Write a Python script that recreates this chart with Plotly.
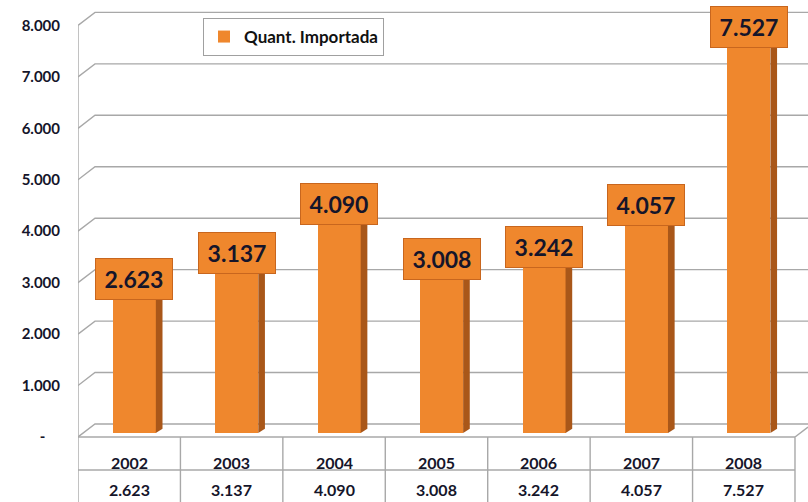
import plotly.graph_objects as go

years = ["2002", "2003", "2004", "2005", "2006", "2007", "2008"]
values = [2623, 3137, 4090, 3008, 3242, 4057, 7527]
labels = ["2.623", "3.137", "4.090", "3.008", "3.242", "4.057", "7.527"]
series_name = "Quant. Importada"
y_ticks = [0, 1000, 2000, 3000, 4000, 5000, 6000, 7000, 8000]
y_tick_text = ["-\u00a0\u00a0\u00a0\u00a0", "1.000", "2.000", "3.000", "4.000", "5.000", "6.000", "7.000", "8.000"]

# 3D styling constants
DX = 0.166   # depth offset in x (category units)
DY = 253     # depth offset in y (value units)
BASE = 78
BAR_OFF = -0.16
BAR_W = 0.42
SIDE_W = 0.065
SIDE_DY = 80
X_MAX = 6.627
Y_MAX = 8300

ORANGE = "#EF872D"
SIDE = "#A95719"
GRID = "#A8A8A8"
TXT = "#15152a"
FONT = "Lato"

xs = list(range(len(years)))

fig = go.Figure()
fig.add_trace(go.Bar(
    x=xs, y=values, base=BASE, offset=BAR_OFF, width=BAR_W,
    marker=dict(color=ORANGE, line=dict(width=0)),
    name=series_name, showlegend=True,
))

shapes = []
for v in y_ticks[1:]:
    shapes.append(dict(type="path", xref="x", yref="y", layer="below",
                       path=f"M -0.5 {v} L {-0.5 + DX} {v + DY} L {X_MAX} {v + DY}",
                       line=dict(color=GRID, width=1.4)))
shapes.append(dict(type="path", xref="x", yref="y", layer="below",
                   path=f"M -0.5 0 L {-0.5 + DX} {DY} L {X_MAX} {DY}",
                   line=dict(color=GRID, width=1.4)))
shapes.append(dict(type="path", xref="x", yref="y", layer="below",
                   path=f"M 6.5 0 L {X_MAX} {DY * (X_MAX - 6.5) / DX}",
                   line=dict(color=GRID, width=1.4)))
shapes.append(dict(type="line", xref="x", yref="y", layer="below",
                   x0=-0.5, x1=-0.5, y0=0, y1=8000, line=dict(color=GRID, width=1.4)))
for i, v in enumerate(values):
    x0 = i + BAR_OFF + BAR_W
    x1 = x0 + SIDE_W
    shapes.append(dict(type="path", xref="x", yref="y", layer="above",
                       path=f"M {x0} {BASE} L {x0} {BASE + v} L {x1} {BASE + v + SIDE_DY} L {x1} {BASE + SIDE_DY} Z",
                       fillcolor=SIDE, line=dict(width=0)))
    shapes.append(dict(type="path", xref="x", yref="y", layer="above",
                       path=f"M {i + BAR_OFF} {BASE + v} L {x0} {BASE + v} L {x1} {BASE + v + SIDE_DY} L {i + BAR_OFF + SIDE_W} {BASE + v + SIDE_DY} Z",
                       fillcolor="#F6A055", line=dict(width=0)))

PH = 427.0
def py(px_below):
    return -px_below / PH
shapes.append(dict(type="line", xref="x", yref="paper", x0=-0.5, x1=6.5, y0=0, y1=0,
                   line=dict(color=GRID, width=1.4)))
shapes.append(dict(type="line", xref="x", yref="paper", x0=-0.5, x1=6.5, y0=py(33), y1=py(33),
                   line=dict(color=GRID, width=1.4)))
for k in range(len(years) + 1):
    shapes.append(dict(type="line", xref="x", yref="paper", x0=-0.5 + k, x1=-0.5 + k,
                       y0=0, y1=py(70), line=dict(color=GRID, width=1.4)))

annotations = []
for i, (yr, lab, v) in enumerate(zip(years, labels, values)):
    annotations.append(dict(x=i, y=0, xref="x", yref="paper", yshift=-25, text=yr,
                            showarrow=False, yanchor="middle",
                            font=dict(family=FONT, size=16, color=TXT, weight="bold")))
    annotations.append(dict(x=i, y=0, xref="x", yref="paper", yshift=-52, text=lab,
                            showarrow=False, yanchor="middle",
                            font=dict(family=FONT, size=16, color=TXT, weight="bold")))
    annotations.append(dict(x=i + 0.05, y=BASE + v, xref="x", yref="y", yshift=-2,
                            text=lab, showarrow=False, yanchor="bottom",
                            width=74, height=38, bgcolor=ORANGE, bordercolor="#C8661E",
                            borderwidth=1, borderpad=1,
                            font=dict(family=FONT, size=23, color=TXT, weight="bold")))

fig.update_layout(
    width=808, height=502,
    margin=dict(l=78, r=0, t=10, b=65, autoexpand=False),
    plot_bgcolor="white", paper_bgcolor="white",
    bargap=0,
    xaxis=dict(range=[-0.5, X_MAX], showticklabels=False, showgrid=False, automargin=False,
               zeroline=False, showline=False, ticks=""),
    yaxis=dict(range=[0, Y_MAX], tickvals=y_ticks, ticktext=y_tick_text, automargin=False,
               showgrid=False, zeroline=False, showline=False, ticks="",
               ticklabelstandoff=17,
               tickfont=dict(family=FONT, size=15, color=TXT, weight="bold")),
    legend=dict(x=(203 - 78) / 730, y=(437 - 18) / PH, xanchor="left", yanchor="top",
                bgcolor="white", bordercolor="#A0A0A0", borderwidth=1,
                font=dict(family=FONT, size=17, color="#111111", weight="bold")),
    shapes=shapes,
    annotations=annotations,
    showlegend=True,
)

fig.write_html("out.html", config={"displayModeBar": False},
               post_script="document.body.style.margin='0';document.body.style.overflow='hidden';")
